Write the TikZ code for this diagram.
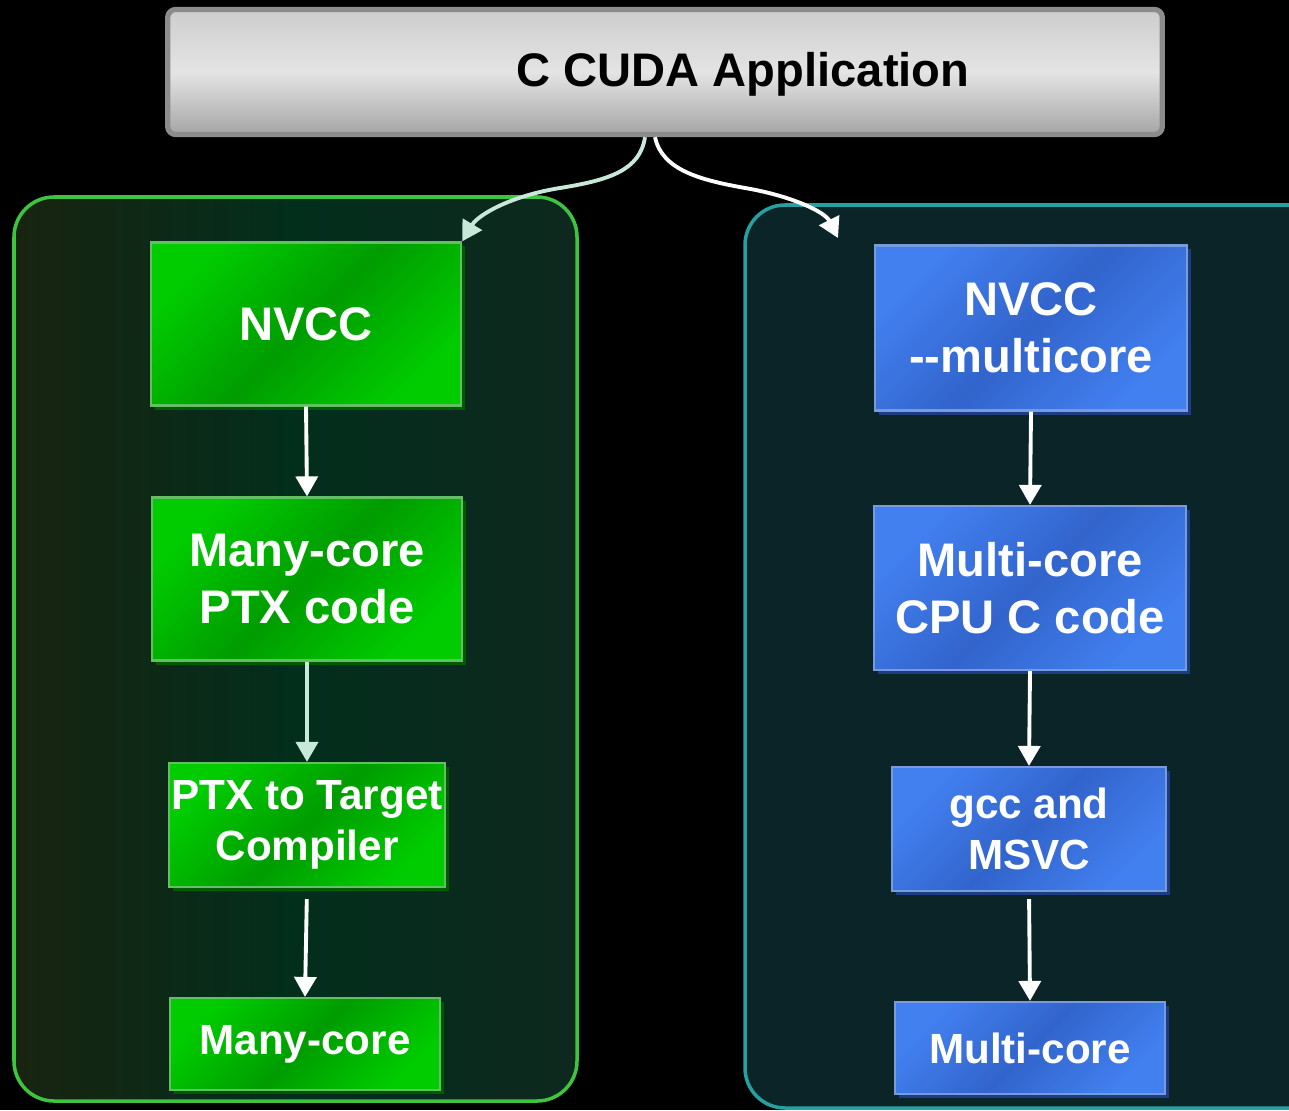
\documentclass[tikz,border=0pt]{standalone}
\usepackage{fontspec}
\setmainfont{Liberation Sans}
\usetikzlibrary{arrows.meta}
\usetikzlibrary{shadows}
\definecolor{gpuline}{RGB}{62,196,62}
\definecolor{gpufillA}{RGB}{24,36,16}
\definecolor{gpufillB}{RGB}{2,46,28}
\definecolor{gpufillC}{RGB}{14,40,30}
\definecolor{cpuline}{RGB}{38,160,160}
\definecolor{cpufill}{RGB}{10,36,40}
\definecolor{gpuhi}{RGB}{0,204,0}
\definecolor{gpulo}{RGB}{0,156,0}
\definecolor{gpuedge}{RGB}{100,190,100}
\definecolor{gpushadow}{RGB}{0,90,0}
\definecolor{cpuhi}{RGB}{66,128,240}
\definecolor{cpulo}{RGB}{50,100,204}
\definecolor{cpuedge}{RGB}{120,155,220}
\definecolor{cpushadow}{RGB}{30,60,130}
\definecolor{mint}{RGB}{200,232,218}
\definecolor{appedge}{RGB}{140,140,140}
\definecolor{apptop}{RGB}{205,205,205}
\definecolor{appmid}{RGB}{228,228,228}
\definecolor{appbot}{RGB}{165,165,165}

\begin{document}
\begin{tikzpicture}[x=0.01cm, y=-0.01cm,
  flow/.style={-{Triangle[width=0.22cm,length=0.2cm]}, white, line width=1.1pt},
  big/.style={font=\fontsize{13.4}{16.2}\selectfont\bfseries},
  small/.style={font=\fontsize{12}{14.4}\selectfont\bfseries},
  gpubox/.style={rectangle, big, align=center, inner sep=0pt, text=white,
    draw=gpuedge, line width=0.6pt,
    top color=gpuhi, bottom color=gpuhi, middle color=gpulo, shading angle=45,
    drop shadow={shadow xshift=0.04cm, shadow yshift=-0.04cm, fill=gpushadow, opacity=1}},
  cpubox/.style={rectangle, big, align=center, inner sep=0pt, text=white,
    draw=cpuedge, line width=0.6pt,
    top color=cpuhi, bottom color=cpuhi, middle color=cpulo, shading angle=45,
    drop shadow={shadow xshift=0.04cm, shadow yshift=-0.04cm, fill=cpushadow, opacity=1}},
  appbox/.style={rectangle, rounded corners=0.08cm, draw=appedge, line width=1.5pt,
    top color=apptop, bottom color=appbot, middle color=appmid,
    minimum width=9.94cm, minimum height=1.25cm}]

\fill[black] (0,0) rectangle (1289,1110);
\useasboundingbox (0,0) rectangle (1289,1110);
\clip (0,0) rectangle (1289,1110);

% panels
\draw[gpuline, line width=1pt, rounded corners=0.4cm, left color=gpufillA, right color=gpufillC, middle color=gpufillB]
  (14,197) rectangle (577,1101);
\draw[cpuline, line width=1pt, rounded corners=0.4cm, fill=cpufill]
  (745,205) rectangle (1330,1108);

% application
\node[appbox] (app) at (665,72) {};
\node[big, text=black, inner sep=0pt] (appname) at ([xshift=0.78cm,yshift=-0.02cm]app.center) {C CUDA Application};

% many-core path
\node[gpubox, minimum width=3.10cm, minimum height=1.63cm] (nvcc) at (306,324) {NVCC};
\node[gpubox, minimum width=3.10cm, minimum height=1.63cm] (ptx) at (307,579) {Many-core\\PTX code};
\node[gpubox, small, minimum width=2.75cm, minimum height=1.24cm] (ptxc) at (307,825) {PTX to Target\\Compiler};
\node[gpubox, small, minimum width=2.70cm, minimum height=0.92cm] (many) at (305,1044) {Many-core};

% multi-core path
\node[cpubox, minimum width=3.12cm, minimum height=1.65cm] (mnvcc) at (1031,328) {NVCC\\-{}-multicore};
\node[cpubox, minimum width=3.12cm, minimum height=1.64cm] (mcpu) at (1030,588) {Multi-core\\CPU C code};
\node[cpubox, small, minimum width=2.74cm, minimum height=1.24cm] (gcc) at (1029,829) {gcc and\\MSVC};
\node[cpubox, small, minimum width=2.70cm, minimum height=0.92cm] (multi) at (1030,1048) {Multi-core};

\coordinate (cpuin) at (838,238);

\draw[flow, mint] ([xshift=-0.2cm]app.south) .. controls (640,170) and (610,180) .. (560,188)
  .. controls (510,196) and (478,215) .. (nvcc.north east);
\draw[flow] ([xshift=-0.1cm]app.south) .. controls (662,170) and (700,180) .. (745,188)
  .. controls (792,196) and (825,212) .. (cpuin);

\draw[flow] (nvcc.south) -- (ptx.north);
\draw[flow, mint] (ptx.south) -- (ptxc.north);
\draw[flow, shorten <=0.11cm] (ptxc.south) -- (many.north);

\draw[flow] (mnvcc.south) -- (mcpu.north);
\draw[flow] (mcpu.south) -- (gcc.north);
\draw[flow, shorten <=0.07cm] (gcc.south) -- (multi.north);
\end{tikzpicture}
\end{document}
